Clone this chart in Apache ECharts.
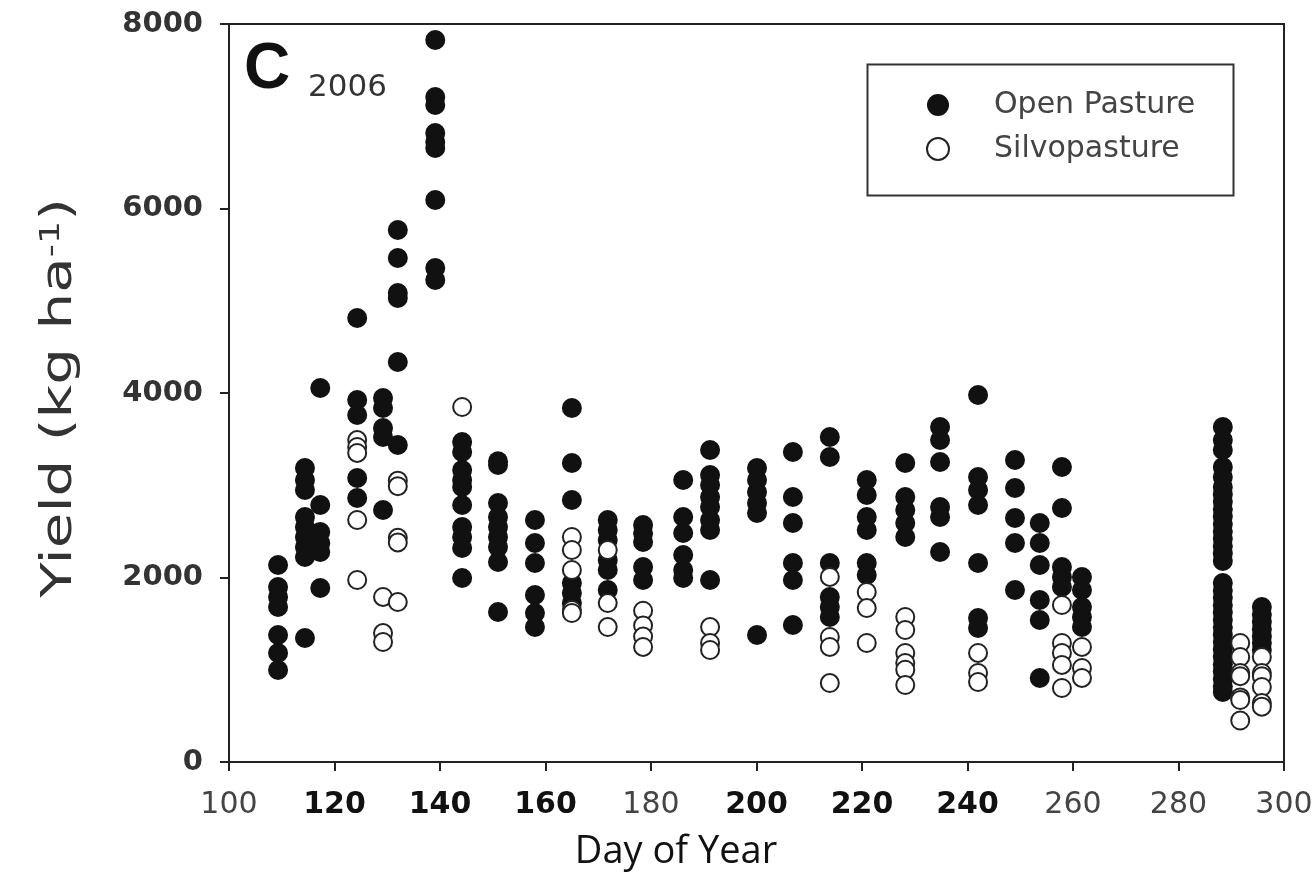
<!DOCTYPE html>
<html>
<head>
<meta charset="utf-8">
<script src="https://cdn.jsdelivr.net/npm/echarts@6/dist/echarts.min.js"></script>
<style>
html,body{margin:0;padding:0;background:#fff;}
#chart{width:1316px;height:896px;}
</style>
</head>
<body>
<div id="chart"></div>
<script>
// ---- data ----
const xTicks = [100, 120, 140, 160, 180, 200, 220, 240, 260, 280, 300];
const boldXTicks = [120, 140, 160, 200, 220, 240];
const yTicks = [0, 2000, 4000, 6000, 8000];

const openDays = [109.3, 114.4, 117.3, 124.3, 129.2, 132.0, 139.1, 144.2, 151.0, 158.0, 165.0, 171.8, 178.5, 186.1, 191.2, 200.1, 206.9, 213.9, 220.9, 228.2, 234.8, 242.0, 249.0, 253.7, 257.9, 261.7, 288.4, 295.8];
const openYields = [
  [2135, 1897, 1789, 1680, 1377, 1182, 997],
  [3187, 3057, 2948, 2656, 2547, 2439, 2330, 2222, 1344],
  [4054, 2786, 2493, 2374, 2276, 1886],
  [4813, 3924, 3761, 3079, 2862],
  [3946, 3837, 3621, 3523, 2732],
  [5767, 5463, 5084, 5030, 4336, 3436],
  [7827, 7209, 7122, 6818, 6721, 6656, 6092, 5355, 5225],
  [3469, 3360, 3165, 3057, 2981, 2786, 2547, 2439, 2320, 1995],
  [3260, 3219, 2808, 2656, 2547, 2439, 2330, 2168, 1626],
  [2623, 2374, 2157, 1810, 1615, 1463],
  [3837, 3241, 2840, 1940, 1832, 1723],
  [2623, 2515, 2406, 2190, 2081, 1865],
  [2569, 2480, 2385, 2114, 1973],
  [3057, 2656, 2482, 2244, 2081, 1995],
  [3382, 3111, 3003, 2873, 2764, 2623, 2515, 1973],
  [3187, 3057, 2927, 2808, 2699, 1377],
  [3360, 2873, 2591, 2157, 1973, 1485],
  [3523, 3306, 2157, 1789, 1680, 1572],
  [3057, 2894, 2656, 2515, 2157, 2027],
  [3241, 2873, 2732, 2591, 2439],
  [3631, 3490, 3252, 2764, 2656, 2276],
  [3978, 3089, 2948, 2786, 2157, 1561, 1452],
  [3274, 2970, 2645, 2374, 1865],
  [2591, 2374, 2135, 1756, 1539, 911],
  [3198, 2753, 2114, 2006, 1897],
  [2006, 1865, 1680, 1572, 1463],
  [3631, 3490, 3382, 3198, 3089, 2981, 2900, 2820, 2740, 2660, 2580, 2500, 2420, 2340, 2260, 2180,
   1940, 1860, 1780, 1700, 1620, 1540, 1460, 1380, 1300, 1220, 1140, 1060, 980, 900, 820, 760],
  [1680, 1600, 1520, 1440, 1360, 1290, 1214]
];

const silvoDays = [124.3, 129.2, 132.0, 144.2, 165.0, 171.8, 178.5, 191.2, 213.9, 220.9, 228.2, 242.0, 257.9, 261.7, 291.7, 295.8];
const silvoYields = [
  [3490, 3415, 3350, 2623, 1973],
  [1789, 1398, 1301],
  [3050, 2990, 2430, 2380, 1734],
  [3848],
  [2439, 2298, 2081, 1648, 1615],
  [2298, 1723, 1463],
  [1640, 1480, 1360, 1247],
  [1463, 1290, 1214],
  [2006, 1355, 1247, 856],
  [1843, 1669, 1290],
  [1572, 1431, 1182, 1073, 1000, 835],
  [1182, 965, 867],
  [1702, 1290, 1182, 1052, 802],
  [1247, 1019, 911],
  [1290, 1138, 965, 930, 700, 672, 450],
  [1138, 965, 930, 813, 640, 600]
];

function toPoints(days, yields) {
  const out = [];
  days.forEach((d, i) => yields[i].forEach(v => out.push([d, v])));
  return out;
}

const chart = echarts.init(document.getElementById('chart'));
const axisCol = '#222';
chart.setOption({
  animation: false,
  backgroundColor: '#fff',
  grid: { left: 229, right: 32, top: 24, bottom: 134, show: true, borderColor: axisCol, borderWidth: 2, backgroundColor: 'transparent' },
  xAxis: {
    type: 'value', min: 100, max: 300, interval: 20,
    splitLine: { show: false },
    axisLine: { show: true, lineStyle: { color: axisCol, width: 2 } },
    axisTick: { show: true, length: 9, lineStyle: { color: axisCol, width: 2 } },
    axisLabel: {
      margin: 28,
      formatter: v => (boldXTicks.indexOf(v) >= 0 ? '{b|' + v + '}' : '{n|' + v + '}'),
      rich: {
        b: { fontFamily: 'DejaVu Sans', fontWeight: 'bold', fontSize: 30, color: '#111' },
        n: { fontFamily: 'DejaVu Sans', fontWeight: 'normal', fontSize: 30, color: '#444' }
      }
    }
  },
  yAxis: {
    type: 'value', min: 0, max: 8000, interval: 2000,
    splitLine: { show: false },
    axisLine: { show: true, lineStyle: { color: axisCol, width: 2 } },
    axisTick: { show: true, length: 9, lineStyle: { color: axisCol, width: 2 } },
    axisLabel: { margin: 26, formatter: v => String(v), fontFamily: 'DejaVu Sans', fontWeight: 'bold', fontSize: 29, color: '#333' }
  },
  legend: {
    orient: 'vertical', left: 921, top: 85, itemWidth: 22, itemHeight: 22, itemGap: 14,
    icon: 'circle',
    textStyle: { fontFamily: 'DejaVu Sans', fontSize: 30, color: '#444', padding: [0, 0, 0, 40] },
    data: ['Open Pasture', 'Silvopasture']
  },
  graphic: [
    { type: 'rect', left: 865, top: 62, shape: { width: 366, height: 131 }, style: { fill: 'none', stroke: '#333', lineWidth: 2 }, z: 0 },
    { type: 'text', left: 244, top: 38, style: { text: 'C', fontFamily: 'Liberation Sans', fontWeight: 'bold', fontSize: 64, fill: '#111' } },
    { type: 'text', left: 308, top: 72, style: { text: '2006', fontFamily: 'DejaVu Sans', fontSize: 31, fill: '#333' } },
    { type: 'text', x: 60, y: 398, rotation: Math.PI / 2, scaleX: 1.35, scaleY: 1,
      style: { text: '{a|Yield (kg ha}{s|-1}{a|)}', align: 'center', verticalAlign: 'middle', fill: '#333',
        rich: { a: { fontFamily: 'DejaVu Sans', fontSize: 43, fill: '#333' }, s: { fontFamily: 'DejaVu Sans', fontSize: 27, fill: '#333', verticalAlign: 'top' } } } },
    { type: 'text', x: 676, y: 852, style: { text: 'Day of Year', align: 'center', verticalAlign: 'middle', fontFamily: 'Open Sans', fontSize: 38, fill: '#111' } }
  ],
  series: [
    {
      name: 'Open Pasture', type: 'scatter', symbol: 'circle', symbolSize: 20,
      itemStyle: { color: '#111', opacity: 1 },
      data: toPoints(openDays, openYields), z: 2
    },
    {
      name: 'Silvopasture', type: 'scatter', symbol: 'circle', symbolSize: 18,
      itemStyle: { color: '#fff', borderColor: '#222', borderWidth: 2, opacity: 1 },
      data: toPoints(silvoDays, silvoYields), z: 3
    }
  ]
});
</script>
</body>
</html>
